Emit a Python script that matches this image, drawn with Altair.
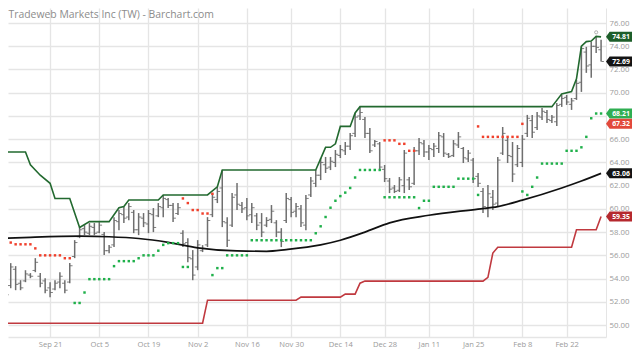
import altair as alt
import pandas as pd

# ---------------- data ----------------
bar_idx = list(range(-1, 122))
high = [54.47, 54.72, 55.33, 55.07, 53.86, 54.72, 54.47, 55.76, 54.47, 54.03, 53.69, 53.86, 54.55, 53.86, 55.33,
        57.31, 58.43, 58.60, 58.78, 58.78, 58.86, 58.00, 56.88, 59.29, 59.90, 60.16, 60.50, 59.90, 59.64, 59.64,
        59.90, 60.07, 60.50, 61.19, 60.93, 60.50, 60.50, 58.17, 57.48, 56.45, 57.31, 56.88, 59.29, 61.36, 61.88,
        63.35, 59.29, 61.36, 62.22, 60.59, 60.93, 60.50, 59.64, 59.64, 59.29, 60.33, 59.03, 58.34, 61.36, 61.02,
        60.50, 60.33, 61.19, 62.74, 63.34, 64.38, 64.47, 64.47, 65.07, 65.50, 65.76, 66.53, 68.26, 68.80, 67.91,
        66.97, 65.93, 65.76, 63.78, 62.66, 62.05, 62.74, 65.07, 62.74, 65.33, 66.10, 65.93, 65.50, 65.67, 66.62,
        66.53, 64.81, 65.93, 66.62, 65.33, 65.07, 64.38, 63.09, 61.79, 62.05, 61.62, 64.47, 67.05, 66.10, 65.76,
        65.50, 66.36, 68.09, 68.09, 68.34, 68.69, 68.52, 68.09, 69.12, 69.81, 69.81, 69.55, 71.10, 74.00, 73.95,
        74.38, 74.85, 74.55]
low = [52.74, 52.31, 53.17, 53.00, 53.00, 53.69, 54.03, 54.55, 53.26, 52.74, 52.40, 53.00, 53.17, 52.74, 53.60,
       55.76, 57.48, 57.74, 57.74, 57.74, 57.91, 56.02, 56.19, 56.71, 58.17, 58.78, 59.03, 57.91, 57.74, 58.43,
       57.91, 58.00, 59.29, 59.29, 60.07, 58.86, 59.47, 56.71, 55.41, 53.86, 54.72, 56.28, 56.71, 59.29, 60.50,
       58.43, 56.71, 58.43, 59.90, 59.64, 59.03, 58.78, 58.17, 57.57, 58.43, 58.78, 57.57, 56.71, 58.78, 59.29,
       59.29, 58.43, 58.17, 61.02, 61.88, 62.48, 63.09, 63.34, 63.60, 64.38, 64.64, 65.07, 66.19, 67.66, 66.10,
       64.81, 65.33, 63.34, 62.31, 61.36, 61.36, 61.45, 61.36, 61.62, 62.05, 64.64, 64.47, 64.21, 64.47, 64.81,
       64.47, 64.38, 64.47, 65.24, 63.95, 64.03, 62.22, 61.88, 59.64, 59.29, 59.90, 60.16, 64.64, 63.95, 62.31,
       63.60, 63.60, 66.19, 66.10, 66.79, 67.66, 67.40, 67.40, 67.14, 68.78, 68.95, 68.52, 69.38, 70.07, 71.71,
       71.28, 73.43, 72.69]
open_ = [54.0, 53.3, 53.4, 54.8, 53.6, 53.8, 54.3, 54.7, 54.2, 53.8, 53.2, 53.1, 53.7, 53.6, 53.7,
         55.9, 57.6, 58.3, 57.9, 58.4, 58.0, 57.8, 56.4, 56.9, 58.9, 59.5, 59.3, 59.7, 58.2, 59.2,
         58.7, 59.5, 59.4, 60.1, 60.8, 60.3, 59.6, 57.9, 57.1, 55.7, 55.0, 56.4, 56.9, 59.5, 60.8,
         61.8, 58.8, 58.6, 61.2, 60.3, 60.1, 59.5, 59.4, 58.8, 58.6, 59.1, 58.8, 58.0, 59.0, 60.8,
         59.8, 60.0, 58.6, 61.2, 62.2, 62.9, 63.8, 63.6, 64.0, 64.6, 65.0, 65.4, 66.5, 68.0, 67.7,
         66.5, 65.5, 65.6, 63.4, 62.4, 61.8, 61.6, 62.0, 62.5, 62.2, 65.0, 65.6, 64.9, 65.1, 65.2,
         66.2, 64.7, 64.6, 65.5, 65.2, 64.3, 64.2, 62.8, 61.5, 60.0, 61.0, 60.5, 64.8, 65.9, 64.5,
         63.8, 64.0, 66.5, 67.6, 67.0, 67.9, 68.3, 67.6, 67.5, 69.0, 69.6, 69.0, 69.5, 70.9, 73.5,
         72.4, 74.0, 73.7]
close = [53.2, 52.6, 55.0, 53.5, 53.2, 54.4, 54.2, 55.4, 53.6, 53.0, 52.8, 53.6, 54.2, 53.0, 55.1,
         57.1, 58.2, 58.0, 58.5, 57.9, 58.6, 56.4, 56.7, 59.0, 59.6, 59.2, 60.2, 58.2, 59.3, 58.8,
         59.6, 58.4, 60.2, 60.9, 60.3, 59.2, 60.1, 57.0, 55.8, 54.3, 56.9, 56.6, 59.0, 61.0, 61.5,
         58.9, 57.3, 61.0, 60.4, 60.0, 59.4, 60.1, 58.6, 58.0, 59.0, 59.8, 58.0, 57.2, 60.9, 59.7,
         60.2, 58.8, 60.9, 62.4, 62.9, 64.0, 63.5, 64.1, 64.7, 65.1, 65.4, 66.3, 67.9, 68.3, 66.5,
         65.0, 65.8, 63.6, 62.6, 61.7, 61.5, 62.5, 64.8, 61.9, 65.0, 65.7, 64.9, 65.2, 65.4, 66.3,
         64.8, 64.5, 65.6, 66.2, 64.4, 64.8, 62.6, 62.2, 60.2, 61.3, 60.4, 64.2, 66.5, 64.6, 63.0,
         65.2, 66.0, 67.8, 66.6, 68.0, 68.4, 67.7, 67.9, 68.9, 69.5, 69.2, 69.3, 70.8, 73.8, 72.3,
         74.0, 73.9, 72.69]

red_idx = [-1, 0, 1, 2, 3, 4, 5, 6, 7, 8, 9, 10, 11, 12, 13,
           36, 37, 38, 39, 40, 41, 42,
           77, 78, 79, 80, 81, 82, 83,
           96, 97, 98, 99, 100, 101, 102, 103, 104, 105]
red_val = [57.8, 57.8, 57.1, 56.95, 56.95, 56.95, 56.95, 56.6, 56.0, 56.0, 56.0, 56.0, 56.0, 55.75, 55.75,
           60.9, 60.5, 59.9, 59.9, 59.6, 59.6, 61.3,
           65.9, 65.9, 65.9, 65.6, 65.6, 65.0, 65.0,
           67.1, 66.2, 66.2, 66.2, 66.2, 66.2, 66.2, 66.2, 66.2, 67.32]

green_idx = [14, 15, 16, 17, 18, 19, 20, 21, 22, 23, 24, 25, 26, 27, 28, 29, 30, 31, 32, 33, 34, 35,
             36, 37, 42, 43, 44, 45, 46, 47, 48, 49,
             50, 51, 52, 53, 54, 55, 56, 57, 58, 59, 60, 61, 62, 63, 64, 65, 66, 67, 68, 69, 70, 71,
             72, 73, 74, 75, 76, 77, 78, 79, 80, 81, 82, 83, 84, 85, 86, 87, 88, 89, 90, 91,
             92, 93, 94, 95, 96,
             105, 106, 107, 108, 109, 110, 111, 112, 113, 114, 115, 116, 117, 118, 119, 120, 121]
green_val = [51.9, 51.9, 52.8, 53.95, 53.95, 53.95, 53.95, 53.95, 55.07, 55.5, 55.5, 55.5, 55.5, 55.75,
             56.0, 56.0, 56.0, 56.4, 56.9, 57.05, 57.05, 57.05,
             55.0, 55.0, 54.3, 54.9, 54.9, 56.0, 56.0, 56.0, 56.0, 56.0,
             57.3, 57.3, 57.3, 57.3, 57.3, 57.3, 57.3, 57.3, 57.3, 57.3, 57.3, 57.3, 57.3, 57.9, 58.5,
             59.3, 60.1, 60.7, 61.1, 61.4, 61.8, 62.7,
             63.35, 63.35, 63.35, 63.35, 63.35, 61.0, 61.0, 61.0, 61.0, 61.0, 61.0, 61.0, 60.07, 60.7,
             60.7, 61.9, 61.9, 61.9, 61.9, 61.9,
             62.6, 62.6, 62.6, 62.6, 61.2,
             61.5, 61.2, 61.9, 62.7, 63.9, 63.9, 63.9, 63.9, 63.9, 65.0, 65.0, 65.0, 65.3, 66.2, 67.8,
             68.21, 68.21]

ma_idx = [-1, 5, 15, 21, 27, 33, 39, 47, 53, 57, 64, 68, 73, 78, 86, 96, 100, 105, 113, 117, 121]
ma_val = [57.45, 57.55, 57.65, 57.6, 57.45, 57.12, 56.65, 56.38, 56.35, 56.5, 56.9, 57.3, 58.0, 58.8,
          59.45, 59.98, 60.2, 60.75, 61.8, 62.4, 63.06]

up_idx = [-1, 4, 5, 7, 9, 10, 13, 15, 17, 21, 23, 24, 25, 31, 32, 41, 43, 44, 63, 65, 66, 67, 68, 70,
          71, 72, 111, 113, 115, 116, 117, 118, 119, 120, 121]
up_val = [64.9, 64.9, 63.8, 62.9, 62.2, 60.9, 60.9, 58.4, 58.9, 58.9, 60.1, 60.2, 60.76, 60.76, 61.2,
          61.2, 61.9, 63.35, 63.35, 65.3, 65.3, 65.6, 67.1, 67.1, 68.26, 68.8, 68.8, 69.9, 70.1, 71.2,
          74.0, 74.4, 74.45, 74.85, 74.81]

lo_idx = [-1, 40, 41, 59, 60, 68, 69, 71, 72, 73, 97, 98, 99, 100, 115, 116, 120, 121]
lo_val = [50.16, 50.16, 52.14, 52.14, 52.4, 52.4, 52.66, 52.66, 53.6, 53.78, 53.78, 54.1, 56.2, 56.7,
          56.7, 58.2, 58.2, 59.35]

mark_idx = [0, 120]
mark_val = [51.95, 75.2]

tick_idx = [0, 9, 19, 29, 39, 49, 58, 68, 77, 86, 95, 105, 114]
tick_lab = ["Sep 8", "Sep 21", "Oct 5", "Oct 19", "Nov 2", "Nov 16", "Nov 30", "Dec 14",
            "Dec 28", "Jan 11", "Jan 25", "Feb 8", "Feb 22"]
y_ticks = [50, 52, 54, 56, 58, 60, 62, 64, 66, 68, 70, 72, 74, 76]
y_hidden = [68]   # this price label sits under the 68.21 badge in the reference

badge_val = [74.81, 72.69, 68.21, 67.32, 63.06, 59.35]
badge_txt = ["74.81", "72.69", "68.21", "67.32", "63.06", "59.35"]
badge_col = ["#1d5e2a", "#141414", "#2fae52", "#e2493b", "#141414", "#b5292e"]

title_txt = "Tradeweb Markets Inc (TW) - Barchart.com"

# ---------------- chart ----------------
W, H = 598, 329
FONT = "Open Sans"
GRID = "#e5e5e5"
LAB = "#9a9a9a"

bars = pd.DataFrame({"idx": bar_idx, "high": high, "low": low, "open": open_, "close": close})
red = pd.DataFrame({"idx": red_idx, "v": red_val})
green = pd.DataFrame({"idx": green_idx, "v": green_val})
ma = pd.DataFrame({"idx": ma_idx, "v": ma_val})
up = pd.DataFrame({"idx": up_idx, "v": up_val})
lo = pd.DataFrame({"idx": lo_idx, "v": lo_val})
mk = pd.DataFrame({"idx": mark_idx, "v": mark_val})
badges = pd.DataFrame({"v": badge_val, "t": badge_txt, "c": badge_col})
ttl = pd.DataFrame({"t": [title_txt]})

xs = alt.Scale(domain=[0.447, 122.0], nice=False, zero=False)
ys = alt.Scale(domain=[48.97, 77.294], nice=False, zero=False)

x_label_expr = " : ".join(f"datum.value == {i} ? '{l}'" for i, l in zip(tick_idx, tick_lab)) + " : ''"
y_label_expr = "".join(f"datum.value == {v} ? '' : " for v in y_hidden) + "format(datum.value, '.2f')"

x_axis = alt.Axis(values=tick_idx, labelExpr=x_label_expr, grid=True, gridColor=GRID, gridWidth=1.3,
                  ticks=False, domain=True, domainColor=GRID, domainWidth=1.3, labelFlush=False,
                  labelOverlap=False, labelFont=FONT, labelFontSize=7.6, labelColor=LAB,
                  labelPadding=3, title=None)
y_axis = alt.Axis(orient="right", values=y_ticks, labelExpr=y_label_expr, grid=True, gridColor=GRID,
                  gridWidth=1.3, ticks=False, domain=True, domainColor=GRID, labelFont=FONT,
                  labelFontSize=7.8, labelColor=LAB, labelPadding=3, title=None)


def X():
    return alt.X("idx:Q", scale=xs, axis=x_axis)


def Y(field):
    return alt.Y(field, scale=ys, axis=y_axis)


BAR = "#6f6f6f"
hl = alt.Chart(bars).mark_rule(color=BAR, strokeWidth=1.5).encode(
    x=X(), y=Y("low:Q"), y2="high:Q")
op = alt.Chart(bars).mark_tick(orient="horizontal", size=2.4, thickness=1, xOffset=-1.6,
                                color="#4a4a4a").encode(x=X(), y=Y("open:Q"))
cl = alt.Chart(bars).mark_tick(orient="horizontal", size=2.4, thickness=1, xOffset=1.6,
                                color="#4a4a4a").encode(x=X(), y=Y("close:Q"))


def line(df, color, width, interp="linear"):
    return alt.Chart(df).mark_line(color=color, strokeWidth=width, interpolate=interp).encode(
        x=X(), y=Y("v:Q"))


ma_l = line(ma, "#111111", 1.7, "monotone")
up_l = line(up, "#22692f", 1.6)
lo_l = line(lo, "#c0393f", 1.6)

red_d = alt.Chart(red).mark_square(size=6, color="#f0402c", opacity=1).encode(x=X(), y=Y("v:Q"))
green_d = alt.Chart(green).mark_square(size=6, color="#1fb04a", opacity=1).encode(x=X(), y=Y("v:Q"))
mk_d = alt.Chart(mk).mark_point(shape="circle", size=10, color="#777777", strokeWidth=0.8).encode(
    x=X(), y=Y("v:Q"))

BADGE_PATH = "M-1,0L-0.72,-0.385L1,-0.385L1,0.385L-0.72,0.385Z"
badge_bg = alt.Chart(badges).mark_point(shape=BADGE_PATH, size=676, filled=True, opacity=1,
                                        strokeWidth=0).encode(
    x=alt.value(W + 13), y=Y("v:Q"), color=alt.Color("c:N", scale=None))
badge_tx = alt.Chart(badges).mark_text(color="white", font=FONT, fontSize=6.9, fontWeight="bold",
                                       align="center", baseline="middle", dy=0.5).encode(
    x=alt.value(W + 15), y=Y("v:Q"), text="t:N")

title = alt.Chart(ttl).mark_text(font=FONT, fontSize=10.4, color="#8c8c8c", align="left",
                                 baseline="alphabetic").encode(
    x=alt.value(0.5), y=alt.value(9.5), text="t:N")

chart = alt.layer(hl, op, cl, ma_l, up_l, lo_l, red_d, green_d, mk_d, badge_bg, badge_tx, title).properties(
    width=W, height=H,
    autosize=alt.AutoSizeParams(type="none"),
    padding={"left": 0, "top": 0, "right": 26, "bottom": 14},
    background="white",
).configure_view(stroke=None)

chart.save("out.html", embed_options={"renderer": "svg", "actions": False})
